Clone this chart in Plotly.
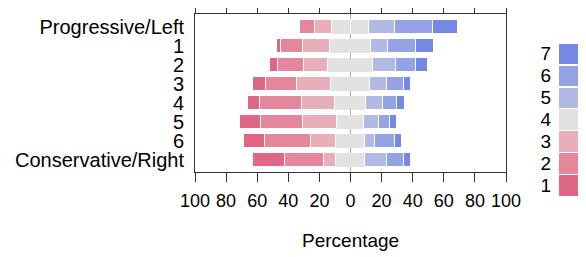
import plotly.graph_objects as go

rows = ["Progressive/Left", "1", "2", "3", "4", "5", "6", "Conservative/Right"]
levels = ["1", "2", "3", "4", "5", "6", "7"]
# percentage of responses per level (1..7) for each row
c1 = [0.0, 2.8, 5.0, 8.4, 7.7, 13.5, 13.3, 20.2]
c2 = [9.5, 14.2, 16.9, 19.5, 26.8, 26.8, 29.6, 25.3]
c3 = [11.1, 17.4, 15.4, 22.0, 21.3, 21.7, 16.2, 7.8]
c4 = [23.4, 26.2, 28.5, 25.3, 20.2, 17.6, 18.4, 18.4]
c5 = [16.7, 10.9, 15.3, 11.0, 10.9, 9.4, 6.8, 14.4]
c6 = [24.4, 17.8, 12.6, 10.9, 9.2, 7.5, 12.7, 10.9]
c7 = [16.1, 11.6, 7.5, 4.3, 5.1, 4.1, 4.1, 4.3]
colors = ["#E06686", "#E5879C", "#E8AEB9", "#E2E2E2", "#B3B9E5", "#93A3E4", "#7489E4"]
xticks = [-100, -80, -60, -40, -20, 0, 20, 40, 60, 80, 100]
xticklabels = [str(abs(v)) for v in xticks]

FONT = "Liberation Sans, Arial, sans-serif"
ypos = list(range(len(rows)))
fig = go.Figure()
bw = 0.73

def add(vals, color, neg, lw=1):
    fig.add_trace(go.Bar(
        y=ypos, x=[(-v if neg else v) for v in vals], orientation="h",
        marker=dict(color=color, line=dict(color="white", width=lw)),
        width=bw, showlegend=False, xaxis="x", yaxis="y"))

half = [v / 2 for v in c4]
add(half, colors[3], True, 0)
add(c3, colors[2], True)
add(c2, colors[1], True)
add(c1, colors[0], True)
add(half, colors[3], False, 0)
add(c5, colors[4], False)
add(c6, colors[5], False)
add(c7, colors[6], False)

# legend drawn as a small bar chart
fig.add_trace(go.Bar(
    y=levels, x=[1] * 7, orientation="h",
    marker=dict(color=colors, line=dict(width=0)),
    width=0.93, showlegend=False, xaxis="x2", yaxis="y2"))

# page body adds an 8px offset, so the figure is drawn 8px smaller
W, H = 578, 249
l, r, t, b = 187, 5, 6, 60
plot_w = W - l - r
plot_h = H - t - b
main_bottom = 164
fig.update_layout(
    width=W, height=H,
    margin=dict(l=l, r=r, t=t, b=b, autoexpand=False),
    plot_bgcolor="white", paper_bgcolor="white",
    barmode="relative", bargap=0,
    font=dict(family=FONT, size=19, color="black"),
    xaxis=dict(domain=[0, 311 / plot_w], range=[-100, 100], tickvals=xticks,
               ticktext=xticklabels, tickangle=0, ticks="outside", ticklen=9,
               tickcolor="#333", showline=True, linecolor="#333", linewidth=1,
               mirror="ticks", showgrid=False, zeroline=True,
               zerolinecolor="#AAAAAA", zerolinewidth=1, automargin=False,
               ticklabelstandoff=3, tickfont=dict(size=18)),
    yaxis=dict(domain=[(H - b - main_bottom) / plot_h, 1], range=[7.62, -0.66],
               tickvals=ypos, ticktext=rows, ticks="outside", ticklen=6,
               tickcolor="rgba(0,0,0,0)", showline=True, linecolor="#333",
               mirror=True, showgrid=False, zeroline=False, automargin=False,
               tickfont=dict(size=20)),
    xaxis2=dict(domain=[(551 - l) / plot_w, (573 - l) / plot_w], range=[0, 1],
                visible=False, anchor="y2", automargin=False),
    yaxis2=dict(domain=[(H - b - 188) / plot_h, (H - b - 34.7) / plot_h],
                anchor="x2", type="category", categoryorder="array",
                categoryarray=levels, range=[-0.5, 6.5], showline=False,
                tickmode="array", tickvals=levels, ticktext=levels,
                showgrid=False, zeroline=False, ticks="outside", ticklen=3,
                tickcolor="rgba(0,0,0,0)", automargin=False,
                tickfont=dict(size=19)),
    annotations=[dict(text="Percentage", x=0, xref="x", y=(H - b - 232) / plot_h,
                      yref="paper", xanchor="center", yanchor="middle",
                      showarrow=False, font=dict(size=19))],
)
fig.write_html("out.html")
